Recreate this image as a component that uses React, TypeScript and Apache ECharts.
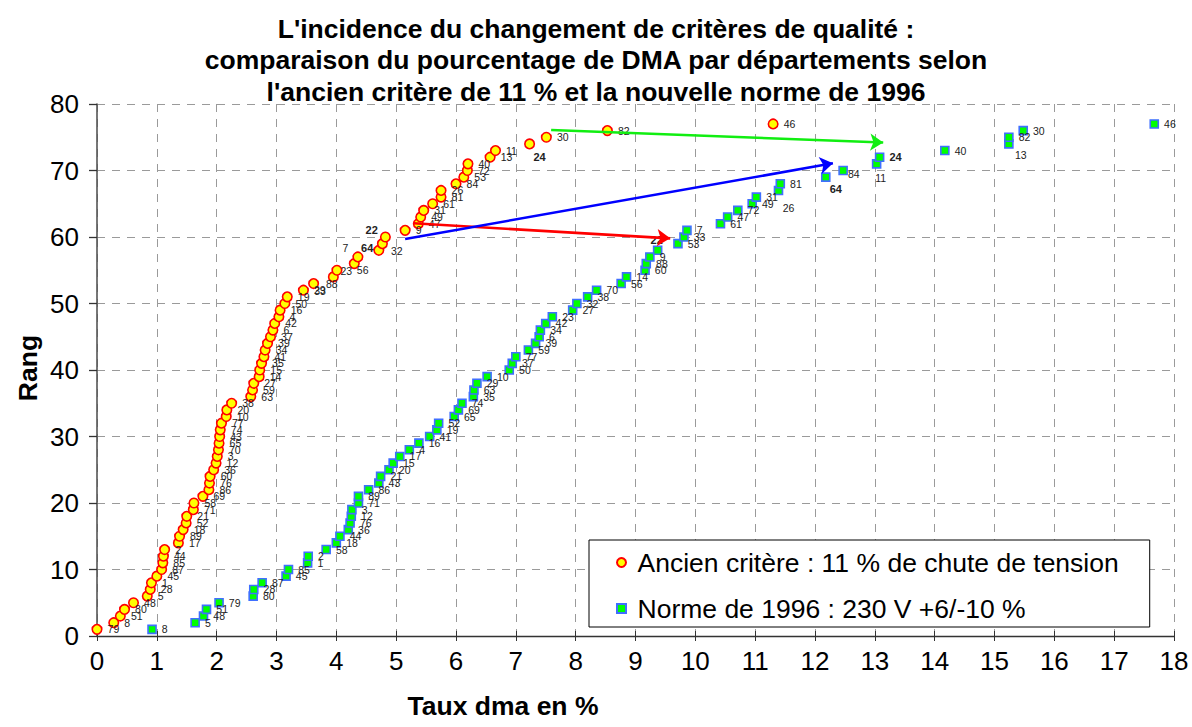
import React, { useEffect, useRef } from 'react';
import * as echarts from 'echarts';

const FONT = '"Liberation Sans", Arial, sans-serif';

const titleLines = [
  "L'incidence du changement de critères de qualité :",
  'comparaison du pourcentage de DMA par départements selon',
  "l'ancien critère de 11 % et la nouvelle norme de 1996",
];
const xAxisTitle = 'Taux dma en %';
const yAxisTitle = 'Rang';
const serieAncien = 'Ancien critère : 11 % de chute de tension';
const serieNorme = 'Norme de 1996 : 230 V +6/-10 %';

const rangs = [
  1, 2, 3, 4, 5, 6, 7, 8, 9, 10, 11, 12, 13, 14, 15, 16, 17, 18, 19, 20,
  21, 22, 23, 24, 25, 26, 27, 28, 29, 30, 31, 32, 33, 34, 35, 36, 37, 38, 39, 40,
  41, 42, 43, 44, 45, 46, 47, 48, 49, 50, 51, 52, 53, 54, 55, 56, 57, 58, 59, 60,
  61, 62, 63, 64, 65, 66, 67, 68, 69, 70, 71, 72, 73, 74, 75, 76, 77,
];

const ancienTaux = [
  0.0, 0.28, 0.39, 0.46, 0.61, 0.84, 0.89, 0.91, 1.0, 1.08,
  1.1, 1.11, 1.13, 1.36, 1.38, 1.44, 1.49, 1.5, 1.61, 1.62,
  1.77, 1.87, 1.88, 1.89, 1.95, 1.99, 2.01, 2.03, 2.04, 2.05,
  2.06, 2.08, 2.16, 2.17, 2.25, 2.57, 2.6, 2.62, 2.71, 2.72,
  2.75, 2.79, 2.81, 2.85, 2.9, 2.94, 2.97, 3.04, 3.06, 3.14,
  3.18, 3.45, 3.62, 3.95, 4.01, 4.3, 4.36, 4.71, 4.77, 4.82,
  5.15, 5.37, 5.41, 5.46, 5.61, 5.75, 5.75, 6.0, 6.13, 6.19,
  6.2, 6.57, 6.66, 7.23, 7.51, 8.53, 11.3,
];
const ancienDept = [
  79, 8, 51, 80, 48, 5, 28, 1, 45, 87,
  85, 44, 2, 17, 89, 18, 52, 21, 71, 58,
  69, 86, 76, 60, 36, 12, 3, 70, 65, 43,
  74, 77, 10, 20, 38, 63, 59, 27, 14, 15,
  35, 41, 34, 39, 37, 6, 42, 4, 16, 50,
  19, 29, 33, 88, 23, 56, 7, 64, 32, 22,
  9, 47, 49, 31, 61, 81, 26, 84, 53, 72,
  40, 13, 11, 24, 30, 82, 46,
];

const normeTaux = [
  0.92, 1.64, 1.78, 1.83, 2.04, 2.61, 2.62, 2.76, 3.16, 3.2,
  3.52, 3.53, 3.83, 4.0, 4.06, 4.2, 4.23, 4.25, 4.26, 4.37,
  4.37, 4.54, 4.71, 4.74, 4.88, 4.95, 5.06, 5.22, 5.38, 5.56,
  5.68, 5.71, 5.97, 6.04, 6.1, 6.29, 6.3, 6.35, 6.52, 6.89,
  6.94, 7.0, 7.21, 7.33, 7.39, 7.41, 7.5, 7.61, 7.95, 8.02,
  8.2, 8.35, 8.76, 8.85, 9.16, 9.18, 9.24, 9.37, 9.71, 9.81,
  9.86, 10.42, 10.54, 10.71, 10.95, 11.02, 11.39, 11.42, 12.18, 12.47,
  13.03, 13.08, 14.17, 15.24, 15.24, 15.48, 17.67,
];
const normeDept = [
  8, 5, 48, 51, 79, 80, 28, 87, 45, 85,
  1, 2, 58, 18, 44, 36, 76, 12, 3, 71,
  89, 86, 43, 21, 20, 15, 17, 4, 16, 41,
  19, 52, 65, 69, 74, 35, 63, 29, 10, 50,
  37, 77, 59, 39, 6, 34, 42, 23, 27, 32,
  38, 70, 56, 14, 60, 88, 9, 22, 53, 33,
  7, 61, 47, 72, 49, 31, 26, 81, 64, 84,
  11, 24, 40, 13, 82, 30, 46,
];

// departments whose label is bold (those tracked by the arrows)
const boldDepts = [22, 64, 24];

// arrows: [x, rang] start -> end
const arrowStarts = [[5.29, 62.06], [5.15, 59.7], [7.59, 76.1]];
const arrowEnds = [[9.58, 59.8], [12.3, 71.08], [13.14, 74.2]];
const arrowColors = ['#ff0000', '#0000ff', '#11ee11'];

// label placement tweaks (style only)
const ancienLabelPlace: Record<number, any> = {
  33: { offset: [-10, 7] },
  88: { offset: [-18, 7] },
  23: { offset: [-7, 1] },
  56: { offset: [-8, 6] },
  7: { position: 'left', offset: [1, -9] },
  64: { position: 'left', offset: [5, -2] },
  32: { offset: [-2, 7] },
  22: { position: 'left', offset: [3, -7] },
  24: { position: 'bottom', offset: [10, -3] },
};
const normeLabelPlace: Record<number, any> = {
  22: { position: 'top', offset: [-1, 5] },
  64: { position: 'bottom', offset: [10, -3] },
  11: { position: 'bottom', offset: [4, -1] },
  26: { position: 'bottom', offset: [10, 2] },
  13: { position: 'bottom', offset: [12, -4] },
  84: { offset: [-5, 3] },
};

function buildPoints(taux: number[], dept: number[], place: Record<number, any>) {
  return taux.map((x, i) => {
    const d = dept[i];
    const item: any = { value: [x, rangs[i]], name: String(d) };
    const label: any = {};
    if (place[d]) Object.assign(label, place[d]);
    if (boldDepts.includes(d)) {
      label.fontWeight = 'bold';
      label.fontSize = 11;
    }
    if (Object.keys(label).length) item.label = label;
    return item;
  });
}

export default function App() {
  const ref = useRef<HTMLDivElement>(null);
  useEffect(() => {
    if (!ref.current) return;
    const chart = echarts.init(ref.current, undefined, { renderer: 'svg' });
    const pointLabel = {
      show: true,
      position: 'right',
      distance: 5,
      formatter: (p: any) => p.name,
      fontSize: 10.5,
      color: '#222',
      fontFamily: FONT,
    };
    const option: any = {
      animation: false,
      backgroundColor: '#fff',
      title: {
        text: titleLines.join('\n'),
        left: 'center',
        top: 13,
        padding: 0,
        textStyle: {
          fontSize: 26.5,
          fontWeight: 'bold',
          lineHeight: 31.5,
          color: '#000',
          fontFamily: FONT,
        },
      },
      legend: {
        orient: 'vertical',
        left: 589,
        top: 540,
        padding: [9, 31, 5, 27],
        itemGap: 19,
        itemWidth: 22,
        itemHeight: 9,
        symbolKeepAspect: true,
        borderColor: '#000',
        borderWidth: 1,
        backgroundColor: '#fff',
        textStyle: { fontSize: 26.5, color: '#000', fontFamily: FONT },
        data: [
          { name: serieAncien },
          { name: serieNorme, icon: 'path://M0,0L10,0L10,10L0,10Z' },
        ],
      },
      grid: { left: 97, right: 18, top: 104, bottom: 91, containLabel: false },
      xAxis: [
        {
          type: 'value',
          min: 0,
          max: 18,
          interval: 1,
          axisLine: { show: true, lineStyle: { color: '#333', width: 1.3 } },
          axisTick: { show: true, length: 5, lineStyle: { color: '#333', width: 1 } },
          axisLabel: { fontSize: 26, color: '#000', margin: 12, fontFamily: FONT },
          splitLine: { show: true, lineStyle: { color: '#9a9a9a', width: 1, type: [8, 7] } },
        },
        {
          type: 'value',
          min: 0,
          max: 18,
          interval: 1,
          position: 'bottom',
          offset: 0,
          axisLine: { show: false },
          axisTick: { show: true, inside: true, length: 5, lineStyle: { color: '#333', width: 1 } },
          axisLabel: { show: false },
          splitLine: { show: false },
        },
      ],
      yAxis: {
        type: 'value',
        min: 0,
        max: 80,
        interval: 10,
        axisLine: { show: true, lineStyle: { color: '#555', width: 1.6 } },
        axisTick: { show: true, length: 8, lineStyle: { color: '#333', width: 1.3 } },
        axisLabel: { fontSize: 26, color: '#000', margin: 18, fontFamily: FONT },
        splitLine: { show: true, lineStyle: { color: '#9a9a9a', width: 1, type: [8, 7] } },
      },
      graphic: [
        {
          type: 'text',
          x: 503,
          y: 706,
          style: {
            text: xAxisTitle,
            fontSize: 26.5,
            fontWeight: 'bold',
            fontFamily: FONT,
            fill: '#000',
            align: 'center',
            verticalAlign: 'middle',
          },
        },
        {
          type: 'text',
          x: 28,
          y: 368,
          rotation: Math.PI / 2,
          style: {
            text: yAxisTitle,
            fontSize: 26.5,
            fontWeight: 'bold',
            fontFamily: FONT,
            fill: '#000',
            align: 'center',
            verticalAlign: 'middle',
          },
        },
      ],
      series: [
        {
          name: serieNorme,
          type: 'scatter',
          symbol: 'rect',
          symbolSize: 8,
          itemStyle: { color: '#00ff00', borderColor: '#3f6fff', borderWidth: 1.6, opacity: 1 },
          label: pointLabel,
          data: buildPoints(normeTaux, normeDept, normeLabelPlace),
          z: 2,
        },
        {
          name: serieAncien,
          type: 'scatter',
          symbol: 'circle',
          symbolSize: 9.5,
          itemStyle: { color: '#ffff00', borderColor: '#ff0000', borderWidth: 1.6, opacity: 1 },
          label: pointLabel,
          data: buildPoints(ancienTaux, ancienDept, ancienLabelPlace),
          z: 3,
        },
        {
          name: 'fleches',
          type: 'line',
          data: [],
          silent: true,
          z: 5,
          markLine: {
            silent: true,
            symbol: ['none', 'arrow'],
            symbolSize: 13,
            label: { show: false },
            emphasis: { disabled: true },
            data: arrowStarts.map((s, i) => [
              { coord: s, lineStyle: { color: arrowColors[i], width: 2.6, type: 'solid' }, itemStyle: { color: arrowColors[i] } },
              { coord: arrowEnds[i] },
            ]),
          },
        },
      ],
    };
    chart.setOption(option);
    return () => chart.dispose();
  }, []);
  return (
    <div
      ref={ref}
      style={{ position: 'absolute', left: 0, top: 0, width: 1192, height: 727 }}
    />
  );
}
